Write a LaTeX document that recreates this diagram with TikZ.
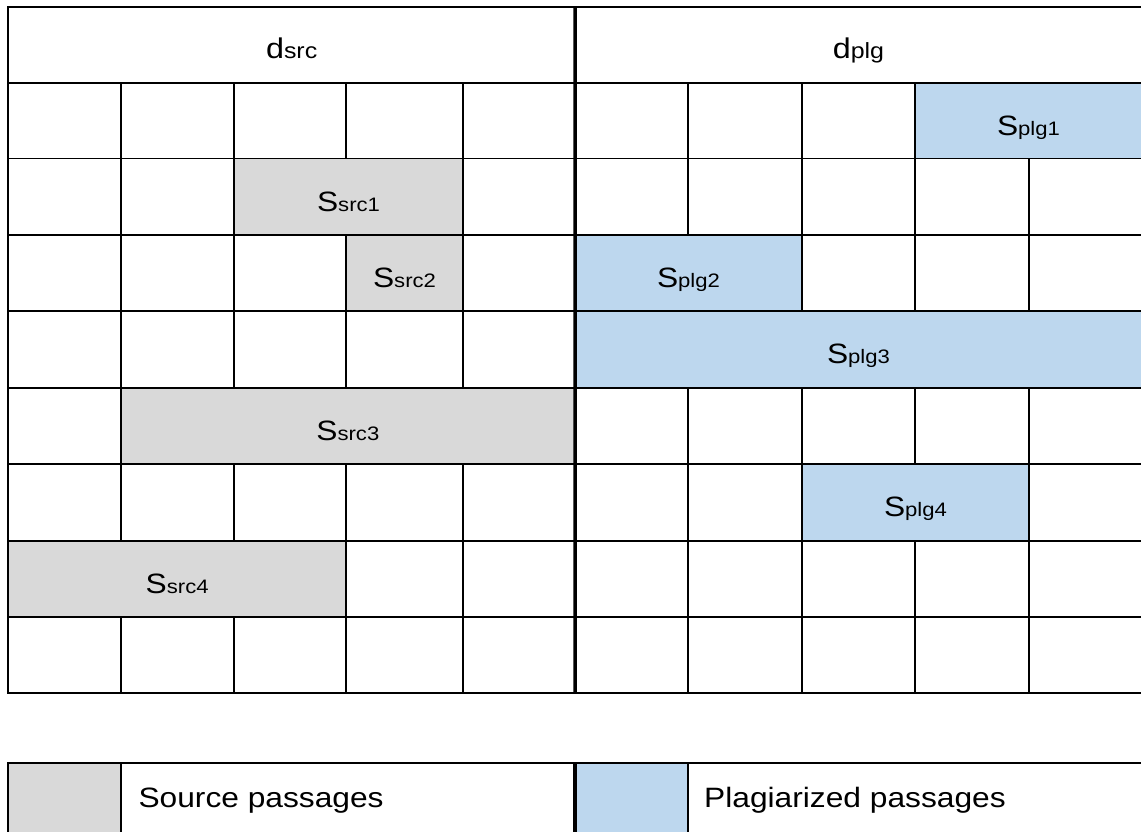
\documentclass[tikz,border=0pt]{standalone}
\usepackage{graphicx}
\usepackage{fontspec}
\setmainfont{Liberation Sans}
\definecolor{srcgray}{HTML}{D9D9D9}
\definecolor{plgblue}{HTML}{BDD7EE}
\newcommand\rcell[6]{% name, x1, y1, x2, y2, options
  \node[cellbox,#6,minimum width={(#4-(#2))*1pt},minimum height={(#5-(#3))*1pt}] (#1) at ({(#2+#4)/2},{(#3+#5)/2}) {};}
\newcommand\gcell[4]{% row, first column, last column, options
  \pgfmathsetmacro\gxa{\X[#2-1]}\pgfmathsetmacro\gxb{\X[#3]}%
  \pgfmathsetmacro\gya{\Y[#1]}\pgfmathsetmacro\gyb{\Y[#1+1]}%
  \rcell{c-#1-#2}{\gxa}{\gya}{\gxb}{\gyb}{#4}}
\newcommand\wide[1]{\scalebox{1.133}[1]{#1}}
\newcommand\lab[2]{\wide{{\fontsize{28}{30}\selectfont #1}{\fontsize{19.5}{21}\selectfont #2}}}
\newcommand\hlab[2]{\wide{{\fontsize{28.5}{30}\selectfont #1}{\fontsize{22}{24}\selectfont #2}}}
\def\X{{8.3,120.7,234,346,463,575,688,802,915,1029,1142}}
\def\Y{{7,82.7,158.5,234.7,311,387.7,463.7,540.7,616.7,692.7}}
\begin{document}
\begin{tikzpicture}[x=1pt,y=-1pt,
  cellbox/.style={rectangle,draw=black,line width=1.8pt,inner sep=0pt,outer sep=0pt},
  srccell/.style={fill=srcgray},
  plgcell/.style={fill=plgblue},
  lbl/.style={inner sep=0pt,anchor=base},
  legtext/.style={inner sep=0pt,anchor=base west,font=\fontsize{28}{30}\selectfont},
  divider/.style={line width=3.5pt,draw=black}]
\useasboundingbox (0,0) rectangle (1141,832);
% header
\rcell{h-src}{8.3}{7}{575}{82.7}{}
\rcell{h-plg}{575}{7}{1142}{82.7}{}
% plain cells
\foreach \k in {1,...,8} {\gcell{1}{\k}{\k}{}}
\foreach \k in {1,2,5,6,7,8,9,10} {\gcell{2}{\k}{\k}{}}
\foreach \k in {1,2,3,5,8,9,10} {\gcell{3}{\k}{\k}{}}
\foreach \k in {1,...,5} {\gcell{4}{\k}{\k}{}}
\foreach \k in {1,6,7,8,9,10} {\gcell{5}{\k}{\k}{}}
\foreach \k in {1,2,3,4,5,6,7,10} {\gcell{6}{\k}{\k}{}}
\foreach \k in {4,...,10} {\gcell{7}{\k}{\k}{}}
\foreach \k in {1,...,10} {\gcell{8}{\k}{\k}{}}
% passages
\gcell{2}{3}{4}{srccell}
\gcell{3}{4}{4}{srccell}
\gcell{5}{2}{5}{srccell}
\gcell{7}{1}{3}{srccell}
\gcell{1}{9}{10}{plgcell}
\gcell{3}{6}{7}{plgcell}
\gcell{4}{6}{10}{plgcell}
\gcell{6}{8}{9}{plgcell}
% labels
\node[lbl] (t-dsrc) at ([yshift=-14pt]h-src.center) {\hlab{d}{src}};
\node[lbl] (t-dplg) at ([yshift=-14pt]h-plg.center) {\hlab{d}{plg}};
\node[lbl] (t-src1) at ([yshift=-14.5pt]c-2-3.center) {\lab{S}{src1}};
\node[lbl] (t-src2) at ([yshift=-14.5pt]c-3-4.center) {\lab{S}{src2}};
\node[lbl] (t-src3) at ([yshift=-14.5pt]c-5-2.center) {\lab{S}{src3}};
\node[lbl] (t-src4) at ([yshift=-14.5pt]c-7-1.center) {\lab{S}{src4}};
\node[lbl] (t-plg1) at ([yshift=-14.5pt]c-1-9.center) {\lab{S}{plg1}};
\node[lbl] (t-plg2) at ([yshift=-14.5pt]c-3-6.center) {\lab{S}{plg2}};
\node[lbl] (t-plg3) at ([yshift=-14.5pt]c-4-6.center) {\lab{S}{plg3}};
\node[lbl] (t-plg4) at ([yshift=-14.5pt]c-6-8.center) {\lab{S}{plg4}};
% legend
\rcell{lg-src}{8.3}{762.7}{120.7}{838.7}{srccell}
\rcell{lg-srct}{120.7}{762.7}{575}{838.7}{}
\rcell{lg-plg}{575}{762.7}{688}{838.7}{plgcell}
\rcell{lg-plgt}{688}{762.7}{1142}{838.7}{}
\node[legtext] (t-lsrc) at (138.3,807) {\wide{Source passages}};
\node[legtext] (t-lplg) at (704,807) {\wide{Plagiarized passages}};
% thick dividers
\draw[divider] (h-src.north east) -- (c-8-5.south east);
\draw[divider] (lg-srct.north east) -- (lg-srct.south east);
\end{tikzpicture}
\end{document}
